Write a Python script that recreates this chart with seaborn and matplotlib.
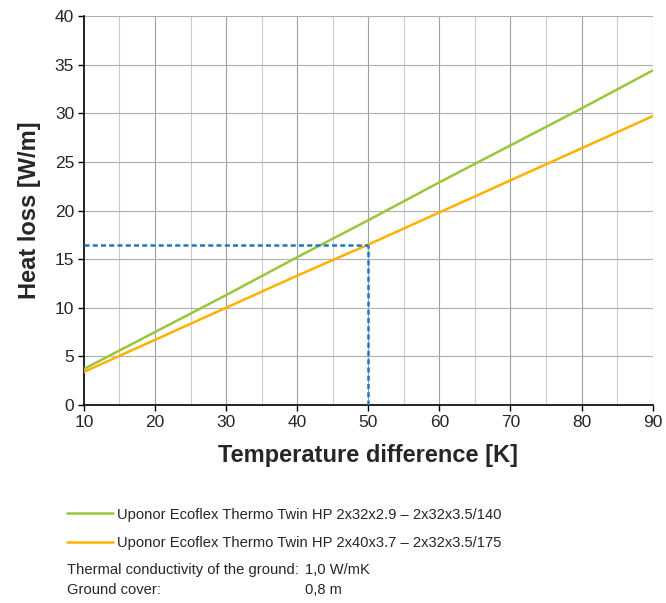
import matplotlib
matplotlib.use("Agg")
import matplotlib.pyplot as plt
import seaborn as sns
import pandas as pd

# data
temp_diff = [10, 20, 30, 40, 50, 60, 70, 80, 90]
loss_140 = [3.7, 7.5, 11.3, 15.2, 19.0, 22.9, 26.7, 30.5, 34.4]
loss_175 = [3.4, 6.7, 10.0, 13.3, 16.5, 19.8, 23.1, 26.4, 29.7]
series_names = ["Uponor Ecoflex Thermo Twin HP 2x32x2.9 \u2013 2x32x3.5/140",
                "Uponor Ecoflex Thermo Twin HP 2x40x3.7 \u2013 2x32x3.5/175"]
marker_x = 50
marker_y = 16.5

df = pd.DataFrame({
    "dT": temp_diff * 2,
    "loss": loss_140 + loss_175,
    "pipe": [series_names[0]] * len(temp_diff) + [series_names[1]] * len(temp_diff),
})

sns.set_style("white")
plt.rcParams["font.family"] = ["Liberation Sans", "DejaVu Sans"]

fig = plt.figure(figsize=(6.66, 6.03), dpi=100, facecolor="white")
ax = fig.add_axes([0.126, 0.3284, 0.854, 0.645])

# grid: darker every 10 K, lighter in between
for x in range(15, 91, 5):
    ax.axvline(x, color="#a0a0a0" if x % 10 == 0 else "#cccccc", lw=0.8, zorder=0)
for y in range(5, 41, 5):
    ax.axhline(y, color="#b0b0b0", lw=0.8, zorder=0)

sns.lineplot(data=df, x="dT", y="loss", hue="pipe",
             palette=["#9bc63b", "#ffb000"], linewidth=1.8, ax=ax, zorder=3)

# reading example
ax.plot([10, marker_x], [marker_y, marker_y], color="#1f78c1", lw=1.8,
        ls=(0, (2.0, 1.3)), zorder=4)
ax.plot([marker_x, marker_x], [0, marker_y], color="#1f78c1", lw=1.8,
        ls=(0, (2.0, 1.3)), zorder=4)

ax.set_xlim(10, 90)
ax.set_ylim(0, 40)
ax.set_xticks(range(10, 91, 10))
ax.set_yticks(range(0, 41, 5))
ax.tick_params(axis="both", labelsize=12.5, length=4, width=1, color="black",
               direction="out", bottom=True, left=True, pad=3)

for side in ["top", "right"]:
    ax.spines[side].set_visible(False)
for side in ["left", "bottom"]:
    ax.spines[side].set_color("black")
    ax.spines[side].set_linewidth(1.2)

ax.set_xlabel("Temperature difference [K]", fontsize=17, fontweight="bold", labelpad=10)
ax.set_ylabel("Heat loss [W/m]", fontsize=17, fontweight="bold", labelpad=10)

# legend below the plot
handles, labels = ax.get_legend_handles_labels()
ax.get_legend().remove()
fig.legend(handles, labels, loc="upper left", bbox_to_anchor=(0.092, 0.168),
           frameon=False, fontsize=10.6, handlelength=3.1, handletextpad=0.3,
           labelspacing=1.0, borderaxespad=0)

fig.text(0.1006, 0.055, "Thermal conductivity of the ground:", fontsize=10.6, va="center")
fig.text(0.458, 0.055, "1,0 W/mK", fontsize=10.6, va="center")
fig.text(0.1006, 0.021, "Ground cover:", fontsize=10.6, va="center")
fig.text(0.458, 0.021, "0,8 m", fontsize=10.6, va="center")

fig.savefig("out.png", dpi=100, facecolor="white")
